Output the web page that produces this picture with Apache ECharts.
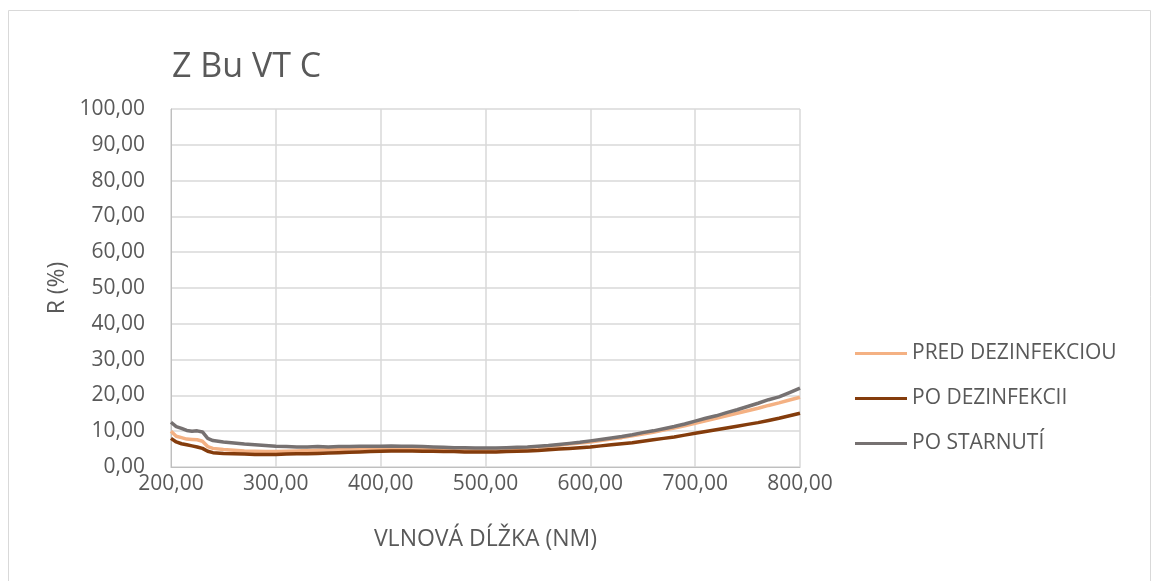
<!DOCTYPE html>
<html>
<head>
<meta charset="utf-8">
<script src="https://cdn.jsdelivr.net/npm/echarts@6/dist/echarts.min.js"></script>
<style>
  html, body { margin: 0; padding: 0; background: #fff; }
  #chart { width: 1156px; height: 581px; }
</style>
</head>
<body>
<div id="chart"></div>
<script>
// wavelength (nm)
const wavelength = [200, 205, 210, 215, 220, 225, 230, 235, 240, 250, 260, 270, 280, 290, 300,
  310, 320, 330, 340, 350, 360, 370, 380, 390, 400, 410, 420, 430, 440, 450, 460, 470, 480, 490, 500,
  510, 520, 530, 540, 550, 560, 570, 580, 590, 600, 610, 620, 630, 640, 650, 660, 670, 680, 690, 700,
  710, 720, 730, 740, 750, 760, 770, 780, 790, 800];

// PRED DEZINFEKCIOU
const predDez = [10.0, 8.6, 8.2, 7.8, 7.7, 7.6, 7.2, 5.7, 5.2, 4.9, 4.7, 4.5, 4.4, 4.3, 4.3,
  4.4, 4.5, 4.6, 4.7, 4.8, 4.9, 5.0, 5.0, 5.1, 5.1, 5.2, 5.2, 5.1, 5.1, 5.0, 5.0, 4.9, 4.9, 4.9, 4.9,
  5.0, 5.1, 5.2, 5.4, 5.6, 5.8, 6.1, 6.4, 6.7, 7.0, 7.4, 7.8, 8.2, 8.7, 9.2, 9.7, 10.3, 10.9, 11.5, 12.2,
  12.9, 13.6, 14.3, 15.0, 15.7, 16.4, 17.2, 17.9, 18.7, 19.5];

// PO DEZINFEKCII
const poDez = [8.0, 7.0, 6.5, 6.2, 5.9, 5.6, 5.2, 4.4, 4.0, 3.8, 3.7, 3.6, 3.5, 3.5, 3.5,
  3.6, 3.7, 3.7, 3.8, 3.9, 4.0, 4.1, 4.2, 4.3, 4.4, 4.5, 4.5, 4.5, 4.4, 4.4, 4.3, 4.3, 4.2, 4.2, 4.2,
  4.2, 4.3, 4.4, 4.5, 4.6, 4.8, 5.0, 5.2, 5.4, 5.6, 5.9, 6.2, 6.5, 6.8, 7.2, 7.6, 8.0, 8.4, 8.9, 9.4,
  9.9, 10.4, 10.9, 11.4, 11.9, 12.4, 13.0, 13.6, 14.3, 15.0];

// PO STARNUTÍ
const poStar = [12.5, 11.3, 10.8, 10.2, 10.0, 10.1, 9.8, 8.0, 7.4, 7.0, 6.7, 6.4, 6.2, 6.0, 5.8,
  5.7, 5.6, 5.6, 5.7, 5.6, 5.7, 5.7, 5.8, 5.8, 5.8, 5.9, 5.8, 5.8, 5.7, 5.6, 5.5, 5.4, 5.4, 5.3, 5.3,
  5.3, 5.4, 5.5, 5.6, 5.8, 6.0, 6.3, 6.6, 6.9, 7.3, 7.7, 8.1, 8.5, 9.0, 9.6, 10.1, 10.7, 11.3, 12.0, 12.8,
  13.6, 14.3, 15.2, 16.0, 16.9, 17.8, 18.8, 19.6, 20.8, 22.0];

const seriesNames = ["PRED DEZINFEKCIOU", "PO DEZINFEKCII", "PO STARNUTÍ"];
const seriesColors = ["#F4B183", "#843C0C", "#767171"];

function pairs(ys) {
  return wavelength.map((x, i) => [x, ys[i]]);
}

function fmt(v) {
  return v.toFixed(2).replace(".", ",");
}

const chart = echarts.init(document.getElementById("chart"));
const font = "'Open Sans', 'Noto Sans', sans-serif";

const option = {
  animation: false,
  textStyle: { fontFamily: font },
  title: {
    text: "Z Bu VT C",
    left: 167,
    top: 45,
    textStyle: { fontSize: 34, fontWeight: "normal", color: "#595959", fontFamily: font },
  },
  graphic: [
    {
      type: "rect",
      shape: { x: 8.5, y: 10.5, width: 1142, height: 580 },
      style: { fill: "none", stroke: "#D9D9D9", lineWidth: 1 },
      silent: true,
    },
  ],
  legend: {
    orient: "vertical",
    left: 850,
    top: 338,
    itemGap: 24,
    itemWidth: 52,
    itemHeight: 3,
    icon: "rect",
    textStyle: { fontSize: 21, color: "#595959", fontFamily: font },
    data: seriesNames,
  },
  grid: { left: 171, right: 356, top: 109, bottom: 114 },
  xAxis: {
    type: "value",
    min: 200,
    max: 800,
    interval: 100,
    name: "VLNOVÁ DĹŽKA (NM)",
    nameLocation: "middle",
    nameGap: 61,
    nameTextStyle: { fontSize: 23, color: "#595959" },
    axisLine: { show: true, lineStyle: { color: "#BFBFBF", width: 1 } },
    axisTick: { show: false },
    axisLabel: { formatter: fmt, fontSize: 21, color: "#595959", margin: 7 },
    splitLine: { show: true, lineStyle: { color: "#D9D9D9", width: 1.5 } },
  },
  yAxis: {
    type: "value",
    min: 0,
    max: 100,
    interval: 10,
    name: "R (%)",
    nameLocation: "middle",
    nameGap: 100,
    nameRotate: 90,
    nameTextStyle: { fontSize: 23, color: "#595959" },
    axisLine: { show: true, lineStyle: { color: "#BFBFBF", width: 1 } },
    axisTick: { show: false },
    axisLabel: { formatter: fmt, fontSize: 21, color: "#595959", margin: 26 },
    splitLine: { show: true, lineStyle: { color: "#D9D9D9", width: 1.5 } },
  },
  series: [predDez, poDez, poStar].map((ys, i) => ({
    name: seriesNames[i],
    type: "line",
    data: pairs(ys),
    showSymbol: false,
    lineStyle: { color: seriesColors[i], width: 3.5 },
    itemStyle: { color: seriesColors[i] },
  })),
};

chart.setOption(option);
</script>
</body>
</html>
